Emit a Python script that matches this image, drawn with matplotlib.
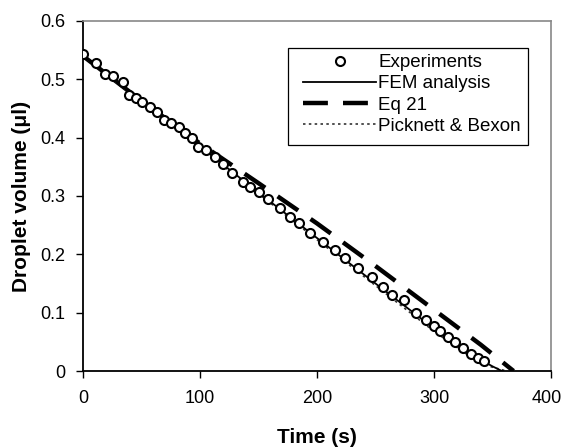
import matplotlib
matplotlib.use("Agg")
import matplotlib.pyplot as plt
from matplotlib.patches import Rectangle
import matplotlib.transforms as mtransforms

plt.rcParams['font.family'] = ['Liberation Sans', 'DejaVu Sans']

# Experiments
exp_t = [0, 11, 19, 26, 34, 39, 45, 50, 57, 63, 69, 75, 82, 87, 93, 98, 105, 113,
         120, 127, 137, 143, 150, 158, 168, 177, 185, 194, 205, 215, 224, 235, 247,
         256, 264, 274, 285, 293, 300, 305, 312, 318, 325, 332, 338, 343]
exp_v = [0.544, 0.528, 0.509, 0.505, 0.496, 0.473, 0.468, 0.461, 0.452, 0.444, 0.430,
         0.425, 0.419, 0.408, 0.400, 0.384, 0.378, 0.367, 0.355, 0.340, 0.324, 0.316,
         0.307, 0.295, 0.280, 0.264, 0.254, 0.237, 0.221, 0.208, 0.194, 0.177, 0.161,
         0.144, 0.130, 0.122, 0.099, 0.088, 0.077, 0.068, 0.058, 0.050, 0.040, 0.030,
         0.022, 0.018]

# FEM analysis
fem_t = [0, 50, 100, 150, 200, 250, 300, 330, 350, 358]
fem_v = [0.540, 0.462, 0.385, 0.306, 0.228, 0.150, 0.073, 0.030, 0.008, 0.0]

# Eq 21
eq_t = [0, 50, 100, 150, 200, 250, 300, 340, 368]
eq_v = [0.540, 0.463, 0.390, 0.322, 0.253, 0.180, 0.105, 0.045, 0.0]

# Picknett & Bexon
pb_t = [0, 100, 200, 300, 340, 362]
pb_v = [0.540, 0.383, 0.225, 0.068, 0.012, 0.0]

W, H = 563, 447
fig = plt.figure(figsize=(W/100, H/100), dpi=100)
ax = fig.add_axes([83/W, 1-371/H, (551-83)/W, (371-21)/H])

ax.plot(fem_t, fem_v, color='black', lw=1.3, label='FEM analysis', zorder=3)
ax.plot(eq_t, eq_v, color='black', lw=3.2, dashes=(5.6, 3.4), label='Eq 21', zorder=2)
ax.plot(pb_t, pb_v, color='#333333', lw=1.2, linestyle=(0, (1.5, 2)), label='Picknett & Bexon', zorder=2)
ax.plot(exp_t, exp_v, linestyle='none', marker='o', ms=6.5, mfc='white', mec='black',
        mew=1.5, label='Experiments', zorder=4)

ax.set_xlim(0, 400)
ax.set_ylim(0, 0.6)
ax.set_xticks([0, 100, 200, 300, 400])
ax.set_yticks([0, 0.1, 0.2, 0.3, 0.4, 0.5, 0.6])
ax.set_yticklabels(['0', '0.1', '0.2', '0.3', '0.4', '0.5', '0.6'])
ax.tick_params(direction='out', length=5, width=1, labelsize=13, pad=8)
ax.tick_params(axis='x', pad=9)

for s in ['left', 'bottom']:
    ax.spines[s].set_color('black')
    ax.spines[s].set_linewidth(1.3)
for s in ['top', 'right']:
    ax.spines[s].set_color('#888888')
    ax.spines[s].set_linewidth(1.2)

ax.set_xlabel('Time (s)', fontsize=15, fontweight='bold', labelpad=15)
ax.set_ylabel('Droplet volume (μl)', fontsize=15, fontweight='bold', labelpad=6)

# nudge the last x tick label so it stays in the picture
last = ax.get_xticklabels()[-1]
last.set_transform(last.get_transform() + mtransforms.ScaledTranslation(-4/100, 0, fig.dpi_scale_trans))

h, l = ax.get_legend_handles_labels()
order = [3, 0, 1, 2]
leg = fig.legend([h[i] for i in order], [l[i] for i in order],
                 loc='upper left', bbox_to_anchor=(303/W, 1-54/H),
                 fontsize=13.5, frameon=False, handlelength=3.9, handletextpad=0.1,
                 labelspacing=0.22, borderpad=0, borderaxespad=0)
fig.patches.append(Rectangle((288/W, 1-145/H), (528-288)/W, (145-48)/H,
                             transform=fig.transFigure, fill=False,
                             edgecolor='black', lw=0.9))

fig.savefig('out.png', dpi=100)
